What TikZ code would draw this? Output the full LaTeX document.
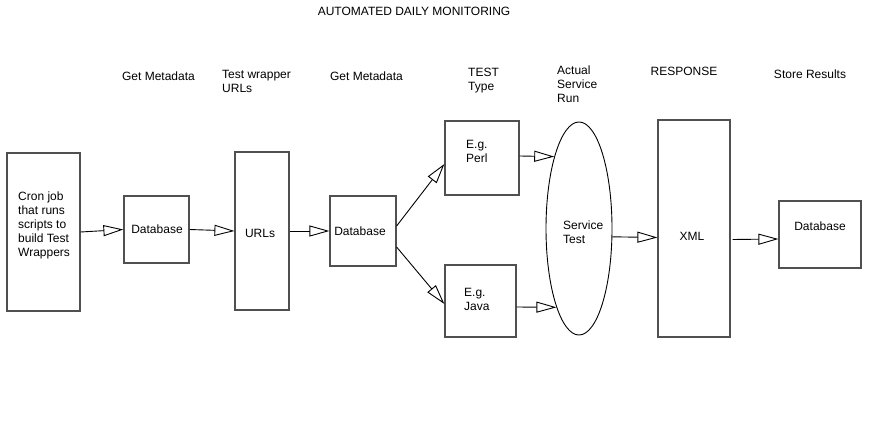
\documentclass[tikz,border=0pt]{standalone}
\usepackage{fontspec}
\setmainfont{Liberation Sans}
\usetikzlibrary{arrows.meta,shapes.geometric}
\definecolor{boxgray}{RGB}{80,80,80}
\begin{document}
\begin{tikzpicture}[x=1pt,y=-1pt,
 box/.style={draw=boxgray, line width=1.2pt, rectangle, inner sep=0pt},
 oval/.style={draw=black, line width=0.9pt, ellipse, inner sep=0pt},
 txt/.style={inner sep=0pt, font=\fontsize{12}{14}\selectfont, align=left},
 ctxt/.style={inner sep=0pt, font=\fontsize{12}{14}\selectfont, align=center},
 flow/.style={draw=black, line width=0.9pt, -{Triangle[open, length=20pt, width=11pt]}}
]
\useasboundingbox (0,0) rectangle (882,427);
% boxes
\node[box, minimum width=73pt, minimum height=158pt] (cron) at (43.5,232) {};
\node[box, minimum width=65pt, minimum height=67pt] (db1) at (156.5,229.5) {};
\node[box, minimum width=54pt, minimum height=158pt] (urls) at (262,231) {};
\node[box, minimum width=66pt, minimum height=70pt] (db2) at (363,231) {};
\node[box, minimum width=74pt, minimum height=74pt] (perl) at (482,158) {};
\node[box, minimum width=71pt, minimum height=72pt] (java) at (480.5,301) {};
\node[oval, minimum width=66pt, minimum height=213pt] (svc) at (579,228.5) {};
\node[box, minimum width=72pt, minimum height=217pt] (xml) at (694,228.5) {};
\node[box, minimum width=82pt, minimum height=67pt] (db3) at (820,234.5) {};
% texts in shapes
\node[txt, anchor=west] (crontext) at (18,225) {Cron job\\that runs\\scripts to\\build Test\\Wrappers};
\node[ctxt] (db1text) at (157,229) {Database};
\node[ctxt] (urlstext) at (260,233) {URLs};
\node[ctxt] (db2text) at (360,231) {Database};
\node[txt, anchor=west] (perltext) at (466,151) {E.g.\\Perl};
\node[txt, anchor=west] (javatext) at (464,299) {E.g.\\Java};
\node[txt, anchor=west] (svctext) at (563,232) {Service\\Test};
\node[ctxt] (xmltext) at (692,236) {XML};
\node[ctxt] (db3text) at (820,226) {Database};
% labels
\node[ctxt] (title) at (414,11) {AUTOMATED DAILY MONITORING};
\node[ctxt] (lab1) at (158.5,76) {Get Metadata};
\node[txt, anchor=west] (lab2) at (222,81.5) {Test wrapper\\URLs};
\node[ctxt] (lab3) at (366.5,76) {Get Metadata};
\node[txt, anchor=west] (lab4) at (468,80.5) {TEST\\Type};
\node[txt, anchor=west] (lab5) at (557,84.5) {Actual\\Service\\Run};
\node[ctxt] (lab6) at (684,71) {RESPONSE};
\node[ctxt] (lab7) at (810,74) {Store Results};
% connectors
\draw[flow] (cron.east) -- (db1.west);
\draw[flow] (db1.east) -- (urls.west);
\draw[flow] (urls.east) -- (db2.west);
\draw[flow] ([yshift=5pt]db2.east) -- ([yshift=-6pt]perl.west);
\draw[flow] ([yshift=-16pt]db2.east) -- ([yshift=-3pt]java.west);
\draw[flow] ([yshift=2pt]perl.east) -- (svc.109);
\draw[flow] ([yshift=-6pt]java.east) -- (svc.254);
\draw[flow] (svc.-14) -- ([yshift=-9pt]xml.west);
\draw[flow] ([xshift=2pt,yshift=-11pt]xml.east) -- ([yshift=-4.5pt]db3.west);
\end{tikzpicture}
\end{document}
